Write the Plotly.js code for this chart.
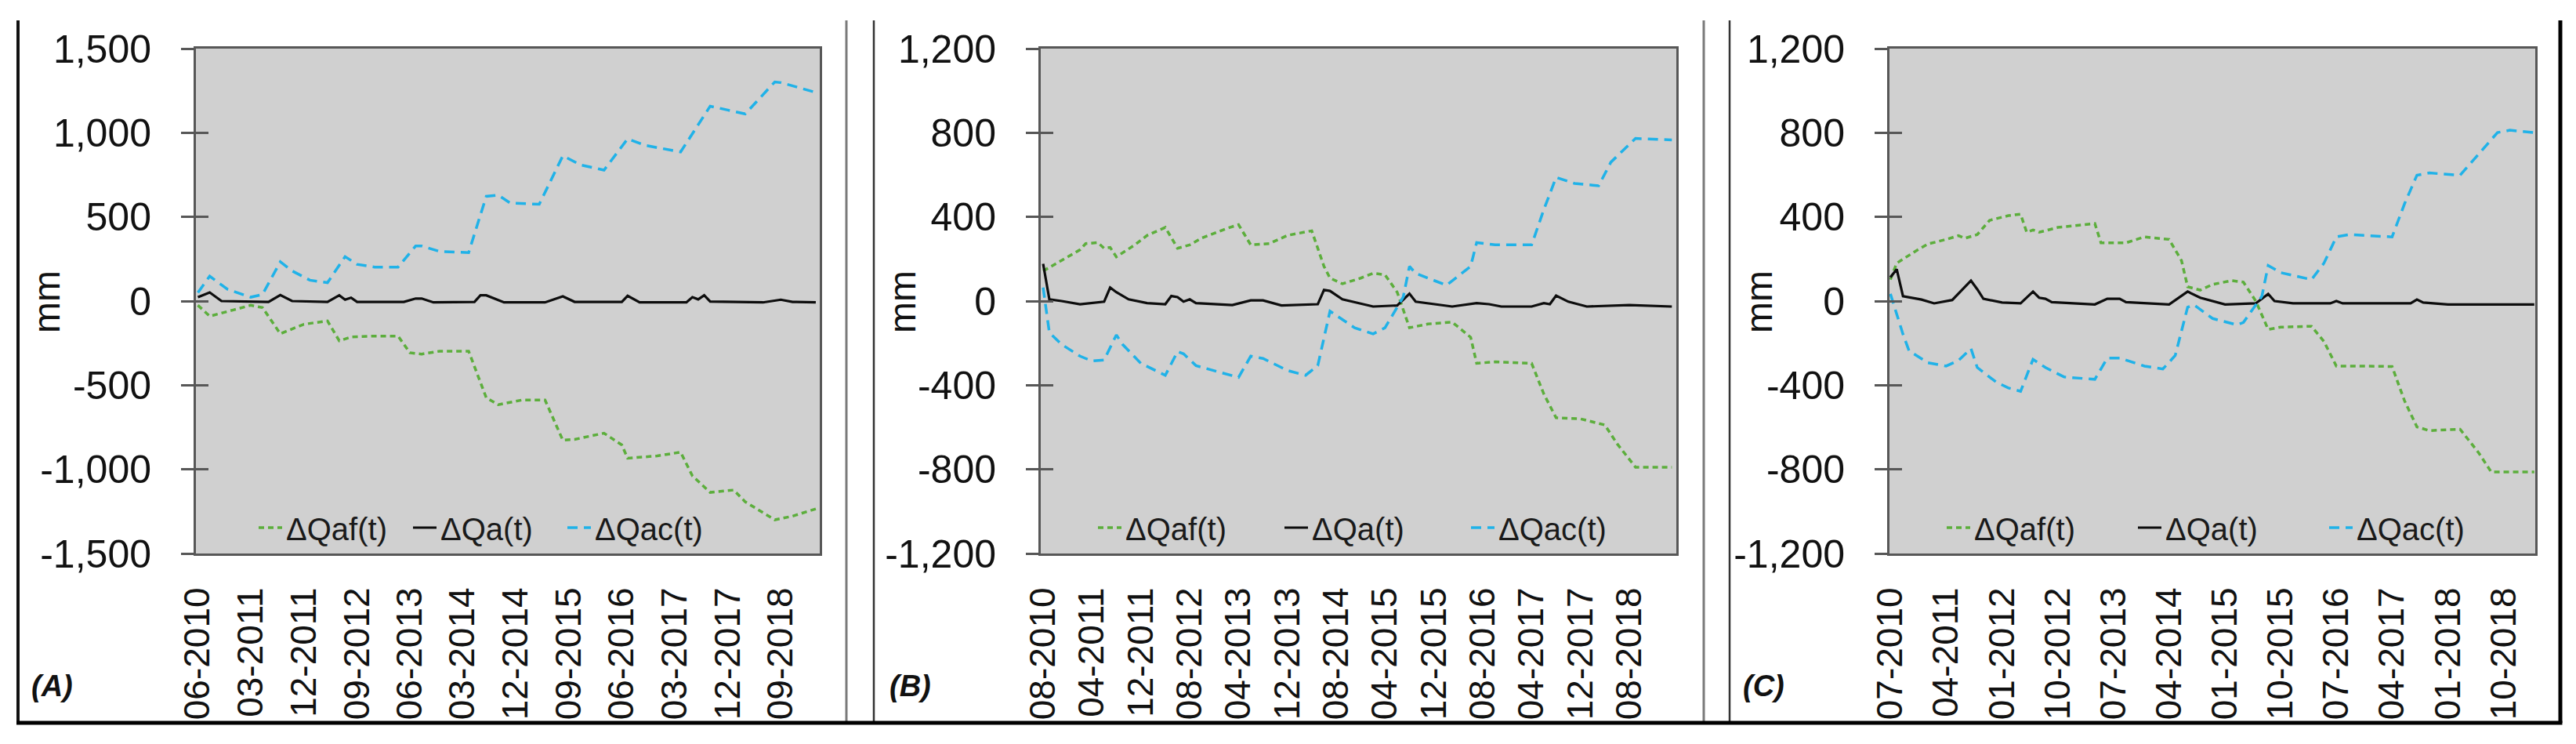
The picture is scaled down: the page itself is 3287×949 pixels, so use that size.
<!DOCTYPE html>
<html><head><meta charset="utf-8">
<script src="https://cdn.plot.ly/plotly-3.0.1.min.js"></script>
<style>html,body{margin:0;padding:0;background:#fff}</style>
</head><body><div id="chart" style="width:3287px;height:949px"></div>
<script>
// ---------- DATA (month offset from each panel's first month, value in mm) ----------
// Panel A: starts 06-2010
const A_start = [2010, 6];
const A_af_m = [0,2,6,9,11,14,18,22,24,26,30,34,36,38,41,46,49,51,55,59,62,64,69,72,73,78,82,84,87,91,93,98,101,105];
const A_af   = [-25,-90,-53,-25,-39,-194,-138,-118,-236,-214,-208,-208,-307,-315,-298,-298,-574,-616,-588,-588,-827,-822,-785,-855,-934,-920,-898,-1039,-1137,-1123,-1193,-1300,-1278,-1235];
const A_a_m  = [0,2,4,12,14,16,22,24,25,26,27,35,37,38,40,47,48,49,52,59,62,64,72,73,75,83,84,85,86,87,96,99,101,105];
const A_a    = [23,51,0,-5,36,0,-5,34,8,20,-5,-5,15,15,-8,-5,34,34,-8,-8,28,-5,-5,31,-8,-8,23,10,34,-3,-8,8,-5,-8];
const A_ac_m = [0,2,5,9,11,14,16,19,22,25,27,30,34,37,38,41,46,49,51,53,58,62,65,69,73,76,82,87,90,93,98,99,105];
const A_ac   = [50,148,70,23,39,233,179,124,109,264,218,202,202,327,327,295,288,622,630,583,575,863,809,778,964,925,886,1158,1135,1112,1302,1298,1240];

// Panel B: starts 08-2010
const B_start = [2010, 8];
const B_af_m = [0,2,6,7,9,10,11,12,15,17,20,22,24,26,30,32,34,37,40,44,46,47,49,52,54,56,58,60,63,67,70,71,74,80,82,84,88,92,94,97,103];
const B_af   = [143,177,244,273,278,251,255,210,267,312,350,251,267,300,345,363,267,273,312,334,165,109,82,109,132,125,42,-127,-109,-100,-172,-296,-289,-296,-442,-555,-560,-589,-678,-790,-790];
const B_a_m  = [0,1,3,6,10,11,12,14,17,20,21,22,23,24,25,31,34,36,39,45,46,47,49,54,58,60,61,67,71,73,75,80,82,83,84,86,89,96,103];
const B_a    = [177,8,0,-15,-3,64,42,8,-10,-15,24,19,-3,8,-10,-19,3,3,-21,-15,53,48,8,-26,-21,35,-3,-26,-10,-15,-26,-26,-10,-15,26,-3,-26,-19,-26];
const B_ac_m = [0,1,3,6,8,10,12,13,16,20,22,23,25,29,32,34,36,40,43,45,47,51,54,56,59,60,61,66,70,71,74,80,82,84,87,91,93,97,103];
const B_ac   = [64,-150,-206,-262,-285,-280,-161,-206,-296,-353,-240,-251,-307,-341,-363,-262,-273,-330,-353,-307,-48,-127,-156,-127,19,165,132,75,165,278,267,267,435,588,559,548,660,773,766];

// Panel C: starts 07-2010
const C_start = [2010, 7];
const C_af_m = [0,1,4,6,9,11,12,14,16,19,21,22,23,24,27,33,34,38,41,45,47,48,50,52,55,57,59,61,63,68,70,72,75,81,83,85,87,92,95,97,104];
const C_af   = [102,180,237,271,293,311,298,316,384,406,413,327,338,327,350,368,277,277,305,293,192,68,52,79,97,90,0,-135,-124,-120,-192,-309,-309,-311,-474,-598,-616,-609,-722,-812,-812];
const C_a_m  = [0,1,2,5,7,9,10,13,14,15,18,21,23,24,25,26,33,35,37,38,45,48,50,54,59,61,62,65,71,72,73,84,85,86,90,104];
const C_a    = [113,151,23,7,-11,0,5,97,56,11,-7,-11,45,16,11,-5,-16,11,11,-5,-16,45,16,-16,-11,34,0,-11,-11,0,-11,-11,7,-7,-16,-16];
const C_ac_m = [0,2,3,6,9,11,13,14,17,19,21,23,25,28,33,35,37,41,44,46,48,49,52,56,57,60,61,63,68,70,72,74,81,83,85,87,92,96,98,100,104];
const C_ac   = [34,-158,-237,-293,-309,-282,-226,-316,-384,-413,-429,-277,-316,-361,-372,-271,-271,-309,-323,-259,-29,-18,-83,-113,-102,23,169,135,102,180,305,316,305,462,598,609,598,733,801,812,801];

const seriesNames = ['ΔQaf(t)', 'ΔQa(t)', 'ΔQac(t)'];
const panelLabels = ['(A)', '(B)', '(C)'];
const yTitle = 'mm';
const A_yticks = [-1500,-1000,-500,0,500,1000,1500];
const A_ytext  = ['-1,500','-1,000','-500','0','500','1,000','1,500'];
const BC_yticks = [-1200,-800,-400,0,400,800,1200];
const BC_ytext  = ['-1,200','-800','-400','0','400','800','1,200'];

// ---------- helpers ----------
const W = 3287, H = 949;
function monthMs(start, m) {
  const whole = Math.floor(m), frac = m - whole;
  const t0 = Date.UTC(start[0], start[1] - 1 + whole, 1);
  const t1 = Date.UTC(start[0], start[1] - 1 + whole + 1, 1);
  return t0 + frac * (t1 - t0);
}
function dateStr(start, m) { return new Date(monthMs(start, m)).toISOString().slice(0, 10); }
const px = x => x / W, py = y => 1 - y / H;

const FONT = '"Liberation Sans", Arial, sans-serif';
const GREEN = '#5cae3c', BLUE = '#20b2e8', BLACK = '#0d0d0d';

const panels = [
  {start: A_start, af: [A_af_m, A_af], a: [A_a_m, A_a], ac: [A_ac_m, A_ac], xs: 'x', ys: 'y', leg: 'legend',
   dom: [250, 1046], mrange: [-0.33, 105.66], dtick: 'M9', yr: [-1500, 1500], tv: A_yticks, tt: A_ytext,
   legX: 325, entry: 152, lab: 66, ttl: 60},
  {start: B_start, af: [B_af_m, B_af], a: [B_a_m, B_a], ac: [B_ac_m, B_ac], xs: 'x2', ys: 'y2', leg: 'legend2',
   dom: [1328, 2139], mrange: [-0.385, 103.72], dtick: 'M8', yr: [-1200, 1200], tv: BC_yticks, tt: BC_ytext,
   legX: 1396, entry: 193, lab: 1161, ttl: 1152},
  {start: C_start, af: [C_af_m, C_af], a: [C_a_m, C_a], ac: [C_ac_m, C_ac], xs: 'x3', ys: 'y3', leg: 'legend3',
   dom: [2411, 3235], mrange: [-0.15, 104.15], dtick: 'M9', yr: [-1200, 1200], tv: BC_yticks, tt: BC_ytext,
   legX: 2479, entry: 199, lab: 2250, ttl: 2245}
];

const traces = [];
const layout = {
  width: W, height: H, autosize: false,
  margin: {l: 0, r: 0, t: 0, b: 0, pad: 0},
  paper_bgcolor: '#ffffff', plot_bgcolor: '#d0d0d0',
  font: {family: FONT, color: '#111111'},
  showlegend: true,
  shapes: [], annotations: []
};

const LINEC = '#575757';
panels.forEach((p, i) => {
  const n = i === 0 ? '' : String(i + 1);
  const ov = String(i + 4);
  const styles = [
    {color: GREEN, width: 3.5, dash: '7px,5px'},
    {color: BLACK, width: 3.2, dash: 'solid'},
    {color: BLUE, width: 3.5, dash: '13px,8px'}
  ];
  [p.af, p.a, p.ac].forEach((s, k) => {
    traces.push({
      type: 'scatter', mode: 'lines', name: seriesNames[k],
      x: s[0].map(m => dateStr(p.start, m)), y: s[1],
      xaxis: p.xs, yaxis: p.ys, legend: p.leg,
      line: styles[k], hoverinfo: 'x+y+name'
    });
  });
  // empty trace so the overlay axis (inside tick marks) is drawn
  traces.push({type: 'scatter', mode: 'lines', x: [], y: [], xaxis: p.xs, yaxis: 'y' + ov, showlegend: false, hoverinfo: 'skip'});

  layout['xaxis' + n] = {
    type: 'date', domain: [px(p.dom[0]), px(p.dom[1])], anchor: p.ys,
    range: [monthMs(p.start, p.mrange[0]), monthMs(p.start, p.mrange[1])],
    tickmode: 'linear', tick0: dateStr(p.start, 0), dtick: p.dtick, tickformat: '%m-%Y',
    tickangle: -90, ticks: '', ticklabelstandoff: 22,
    tickfont: {family: FONT, size: 46, color: '#111111'},
    showline: true, mirror: true, linecolor: LINEC, linewidth: 3,
    showgrid: false, zeroline: false, automargin: false, fixedrange: true
  };
  layout['yaxis' + n] = {
    domain: [py(706), py(62)], anchor: p.xs, range: p.yr,
    tickmode: 'array', tickvals: p.tv, ticktext: p.tt,
    ticks: 'outside', ticklen: 16, tickwidth: 3, tickcolor: LINEC,
    ticklabelstandoff: 28,
    tickfont: {family: FONT, size: 50, color: '#111111'},
    showline: true, mirror: true, linecolor: LINEC, linewidth: 3,
    showgrid: false, zeroline: false, automargin: false, fixedrange: true
  };
  layout['yaxis' + ov] = {
    overlaying: p.ys, anchor: p.xs, side: 'left', range: p.yr,
    tickmode: 'array', tickvals: p.tv, showticklabels: false,
    ticks: 'inside', ticklen: 16, tickwidth: 3, tickcolor: LINEC,
    showline: false, showgrid: false, zeroline: false, automargin: false, fixedrange: true
  };
  layout[p.leg] = {
    orientation: 'h', x: px(p.legX), xanchor: 'left', y: py(673), yanchor: 'middle',
    bgcolor: 'rgba(0,0,0,0)', borderwidth: 0,
    font: {family: FONT, size: 40, color: '#1a1a1a'},
    entrywidth: p.entry, entrywidthmode: 'pixels', traceorder: 'normal'
  };
  // y-axis title "mm" (rotated), placed as in the reference
  layout.annotations.push({
    xref: 'paper', yref: 'paper', x: px(p.ttl), y: py(385), xanchor: 'center', yanchor: 'middle',
    text: yTitle, textangle: -90, showarrow: false,
    font: {family: FONT, size: 48, color: '#111111'}
  });
  layout.annotations.push({
    xref: 'paper', yref: 'paper', x: px(p.lab), y: py(875), xanchor: 'center', yanchor: 'middle',
    text: panelLabels[i], showarrow: false,
    font: {family: FONT, size: 38, color: '#111111', weight: 'bold', style: 'italic'}
  });
});

// panel frame lines
function vline(x, color, w) {
  return {type: 'line', xref: 'paper', yref: 'paper', x0: px(x), x1: px(x), y0: py(26), y1: py(922), line: {color: color, width: w}};
}
layout.shapes.push(
  vline(23, '#111111', 4),
  vline(1080, '#7a7a7a', 3), vline(1115, '#333333', 2.5),
  vline(2174, '#7a7a7a', 3), vline(2207, '#333333', 2.5),
  vline(3267, '#000000', 5),
  {type: 'line', xref: 'paper', yref: 'paper', x0: px(21), x1: px(3269.5), y0: py(922), y1: py(922), line: {color: '#000000', width: 5}}
);

Plotly.newPlot('chart', traces, layout, {staticPlot: true, displayModeBar: false});
</script></body></html>
